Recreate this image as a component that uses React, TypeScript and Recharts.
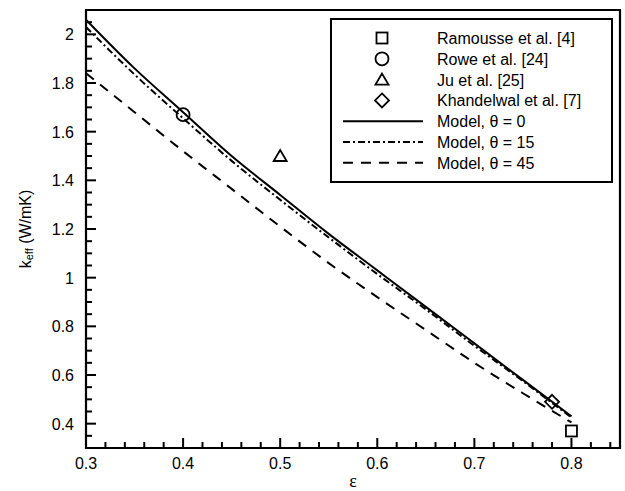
import { ComposedChart, Line, XAxis, YAxis, ReferenceArea, Customized } from 'recharts';

// porosity values where the model curves were read
const eps = [0.3, 0.35, 0.4, 0.45, 0.5, 0.55, 0.6, 0.65, 0.7, 0.75, 0.8];
const kTheta0 = [2.06, 1.86, 1.68, 1.5, 1.34, 1.18, 1.03, 0.88, 0.73, 0.58, 0.43];
const kTheta15 = [2.03, 1.835, 1.655, 1.48, 1.32, 1.165, 1.015, 0.87, 0.72, 0.575, 0.425];
const kTheta45 = [1.84, 1.68, 1.52, 1.365, 1.21, 1.06, 0.92, 0.785, 0.65, 0.525, 0.405];

// measured points
const ramousseX = [0.8];
const ramousseY = [0.37];
const roweX = [0.4];
const roweY = [1.67];
const juX = [0.5];
const juY = [1.5];
const khandelwalX = [0.78];
const khandelwalY = [0.49];

const xMajor = [0.3, 0.4, 0.5, 0.6, 0.7, 0.8];
const yMajor = [0.4, 0.6, 0.8, 1, 1.2, 1.4, 1.6, 1.8, 2];
const xTicks = Array.from({ length: 28 }, (_, i) => +(0.3 + i * 0.02).toFixed(2));
const yTicks = Array.from({ length: 37 }, (_, i) => +(0.3 + i * 0.05).toFixed(2));

const FONT = '"Liberation Sans", Arial, Helvetica, sans-serif';
const INK = '#000';

const toPoints = (xs: number[], ys: number[]) => xs.map((x, i) => ({ x, y: ys[i] }));
const curve = (ys: number[]) => eps.map((x, i) => ({ x, y: ys[i] }));

const isMajor = (list: number[], v: number) => list.some((m) => Math.abs(m - v) < 1e-6);

const XTick = (props: any) => {
  const { x, y, payload } = props;
  const v = payload.value;
  const major = isMajor(xMajor, v);
  return (
    <g>
      <path d={`M${x},${y}V${y - (major ? 10 : 6)}`} stroke={INK} strokeWidth={2} />
      <text x={x} y={y + 21} textAnchor="middle" fontSize={16} fontFamily={FONT} fill={INK}>
        {major ? v.toFixed(1) : ''}
      </text>
    </g>
  );
};

const YTick = (props: any) => {
  const { x, y, payload } = props;
  const v = payload.value;
  const major = isMajor(yMajor, v);
  return (
    <g>
      <path d={`M${x},${y}H${x + (major ? 10 : 6)}`} stroke={INK} strokeWidth={2} />
      <text x={x - 12} y={y + 6} textAnchor="end" fontSize={16} fontFamily={FONT} fill={INK}>
        {major ? String(Math.round(v * 10) / 10) : ''}
      </text>
    </g>
  );
};

type Marker = 'square' | 'circle' | 'triangle' | 'diamond';

const drawMarker = (kind: Marker, cx: number, cy: number) => {
  const common = { fill: 'none', stroke: INK, strokeWidth: 1.8 };
  if (kind === 'square') return <rect x={cx - 5.5} y={cy - 5.5} width={11} height={11} {...common} />;
  if (kind === 'circle') return <circle cx={cx} cy={cy} r={6.5} {...common} />;
  if (kind === 'triangle')
    return <polygon points={`${cx},${cy - 6} ${cx + 6.5},${cy + 5} ${cx - 6.5},${cy + 5}`} {...common} />;
  return <polygon points={`${cx},${cy - 7} ${cx + 7},${cy} ${cx},${cy + 7} ${cx - 7},${cy}`} {...common} />;
};

const markerDot = (kind: Marker) => (props: any) => (
  <g key={`${kind}-${props.index}`}>{drawMarker(kind, props.cx, props.cy)}</g>
);

const legendRows: { label: string; marker?: Marker; dash?: string }[] = [
  { label: 'Ramousse et al. [4]', marker: 'square' },
  { label: 'Rowe et al. [24]', marker: 'circle' },
  { label: 'Ju et al. [25]', marker: 'triangle' },
  { label: 'Khandelwal et al. [7]', marker: 'diamond' },
  { label: 'Model, \u03b8 = 0', dash: '' },
  { label: 'Model, \u03b8 = 15', dash: '7 3 2 3' },
  { label: 'Model, \u03b8 = 45', dash: '10 8' },
];

// legend and axis titles, drawn inside the chart svg
const Overlay = () => (
  <g>
    <g transform="translate(330,18)">
      <rect x={1} y={1} width={281} height={163} fill="#fff" stroke={INK} strokeWidth={2} />
      {legendRows.map((r, i) => {
        const cy = 20 + i * 20.8;
        return (
          <g key={r.label}>
            {r.marker ? (
              drawMarker(r.marker, 52, cy)
            ) : (
              <path d={`M13,${cy}H93`} stroke={INK} strokeWidth={2} strokeDasharray={r.dash || undefined} />
            )}
            <text x={107} y={cy + 6} fontSize={16} fontFamily={FONT} fill={INK}>
              {r.label}
            </text>
          </g>
        );
      })}
    </g>
    <text x={25} y={229} transform="rotate(-90 25 229)" textAnchor="middle" dominantBaseline="central" fontSize={16} fontFamily={FONT} fill={INK}>
      k<tspan fontSize={11} dy={4}>eff</tspan>
      <tspan dy={-4}> (W/mK)</tspan>
    </text>
    <text x={353} y={487} textAnchor="middle" fontSize={18} fontFamily='"Liberation Serif", "Times New Roman", serif' fill={INK}>
      {'\u03b5'}
    </text>
  </g>
);

export default function App() {
  return (
    <div style={{ position: 'absolute', left: 0, top: 0, background: '#fff' }}>
      <style>{'body{margin:0}'}</style>
      <ComposedChart width={625} height={491} margin={{ top: 10, right: 5, bottom: 0, left: 0 }}>
        <XAxis
          type="number"
          dataKey="x"
          domain={[0.3, 0.85]}
          ticks={xTicks}
          interval={0}
          tick={XTick}
          tickLine={false}
          tickSize={0}
          tickMargin={0}
          axisLine={{ stroke: INK, strokeWidth: 2 }}
          height={43}
          allowDataOverflow
        />
        <YAxis
          type="number"
          dataKey="y"
          domain={[0.3, 2.1]}
          ticks={yTicks}
          interval={0}
          tick={YTick}
          tickLine={false}
          tickSize={0}
          tickMargin={0}
          axisLine={{ stroke: INK, strokeWidth: 2 }}
          width={86}
          allowDataOverflow
        />
        <ReferenceArea x1={0.3} x2={0.85} y1={0.3} y2={2.1} fill="none" stroke={INK} strokeWidth={2.2} />
        <Line data={curve(kTheta0)} dataKey="y" type="monotone" stroke={INK} strokeWidth={2} dot={false} isAnimationActive={false} name="Model, θ = 0" />
        <Line data={curve(kTheta15)} dataKey="y" type="monotone" stroke={INK} strokeWidth={2} strokeDasharray="7 3 2 3" dot={false} isAnimationActive={false} name="Model, θ = 15" />
        <Line data={curve(kTheta45)} dataKey="y" type="monotone" stroke={INK} strokeWidth={2} strokeDasharray="10 8" dot={false} isAnimationActive={false} name="Model, θ = 45" />
        <Line data={toPoints(ramousseX, ramousseY)} dataKey="y" stroke="none" dot={markerDot('square')} isAnimationActive={false} name="Ramousse et al. [4]" />
        <Line data={toPoints(roweX, roweY)} dataKey="y" stroke="none" dot={markerDot('circle')} isAnimationActive={false} name="Rowe et al. [24]" />
        <Line data={toPoints(juX, juY)} dataKey="y" stroke="none" dot={markerDot('triangle')} isAnimationActive={false} name="Ju et al. [25]" />
        <Line data={toPoints(khandelwalX, khandelwalY)} dataKey="y" stroke="none" dot={markerDot('diamond')} isAnimationActive={false} name="Khandelwal et al. [7]" />
        <Customized component={Overlay} />
      </ComposedChart>
    </div>
  );
}
